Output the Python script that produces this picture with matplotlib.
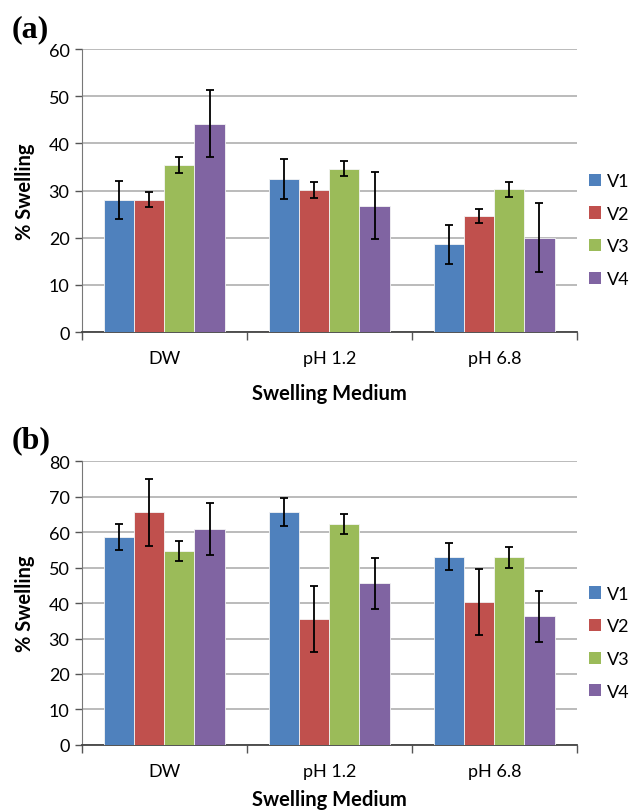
import matplotlib
matplotlib.use("Agg")
import matplotlib.pyplot as plt
from matplotlib.patches import Patch
import numpy as np

categories = ["DW", "pH 1.2", "pH 6.8"]
series = ["V1", "V2", "V3", "V4"]
colors = ["#4F81BD", "#C0504D", "#9BBB59", "#8064A2"]

# Panel (a)
a_V1 = [28.0, 32.5, 18.6]
a_V2 = [28.0, 30.1, 24.6]
a_V3 = [35.4, 34.6, 30.3]
a_V4 = [44.2, 26.8, 20.0]
a_V1_err = [4.0, 4.2, 4.1]
a_V2_err = [1.6, 1.6, 1.5]
a_V3_err = [1.6, 1.6, 1.6]
a_V4_err = [7.2, 7.1, 7.3]

# Panel (b)
b_V1 = [58.5, 65.7, 53.1]
b_V2 = [65.5, 35.6, 40.2]
b_V3 = [54.6, 62.3, 52.9]
b_V4 = [60.8, 45.5, 36.2]
b_V1_err = [3.7, 3.9, 3.7]
b_V2_err = [9.4, 9.3, 9.3]
b_V3_err = [2.8, 2.9, 3.0]
b_V4_err = [7.3, 7.2, 7.1]

yticks_a = [0, 10, 20, 30, 40, 50, 60]
yticks_b = [0, 10, 20, 30, 40, 50, 60, 70, 80]

FONT = "Lato"
plt.rcParams['font.family'] = [FONT, 'DejaVu Sans']

fig = plt.figure(figsize=(6.32, 8.12), dpi=100)

def draw_panel(rect, vals, errs, yticks, letter, letter_xy, xlabelpad):
    ax = fig.add_axes(rect)
    x = np.arange(len(categories))
    w = 0.182
    for i, (v, e, c, s) in enumerate(zip(vals, errs, colors, series)):
        pos = x + (i - 1.5) * w
        ax.bar(pos, v, width=w, color=c, edgecolor="#f4f4f4", linewidth=0.6,
               label=s, zorder=3)
        ax.errorbar(pos, v, yerr=e, fmt="none", ecolor="black", elinewidth=1.3,
                    capsize=3, capthick=1.3, zorder=4)
    ax.set_xlim(-0.5, len(categories) - 0.5)
    ax.set_ylim(yticks[0], yticks[-1])
    ax.set_yticks(yticks)
    ax.set_yticklabels([str(t) for t in yticks], fontsize=13)
    ax.set_xticks(x)
    ax.set_xticklabels(categories, fontsize=13)
    ax.set_xticks(np.arange(len(categories) + 1) - 0.5, minor=True)
    ax.tick_params(axis="x", which="major", length=0, pad=13)
    ax.tick_params(axis="x", which="minor", length=6, width=1, color="#555555")
    ax.tick_params(axis="y", which="major", length=5, width=1, color="#555555", pad=4)
    ax.grid(axis="y", color="#a8a8a8", linewidth=1.1, zorder=0)
    ax.set_axisbelow(True)
    for s in ["top", "right"]:
        ax.spines[s].set_visible(False)
    ax.spines["left"].set_color("#777777")
    ax.spines["bottom"].set_color("#444444")
    ax.spines["bottom"].set_linewidth(1.3)
    ax.set_ylabel("% Swelling", fontsize=14.5, fontweight="bold", labelpad=10)
    ax.set_xlabel("Swelling Medium", fontsize=14.5, fontweight="bold", labelpad=xlabelpad)
    handles = [Patch(facecolor=c, edgecolor="none") for c in colors]
    ax.legend(handles, series, loc="center left", bbox_to_anchor=(1.010, 0.36),
              frameon=False, fontsize=13, handlelength=0.65, handleheight=0.65,
              handletextpad=0.35, labelspacing=0.92, borderaxespad=0)
    fig.text(letter_xy[0], letter_xy[1], letter, fontsize=23, fontweight="bold",
             family="Liberation Serif", ha="left", va="center")
    return ax

draw_panel([0.1297, 0.5899, 0.7832, 0.3485],
           [a_V1, a_V2, a_V3, a_V4], [a_V1_err, a_V2_err, a_V3_err, a_V4_err],
           yticks_a, "(a)", (0.018, 0.963), 12)
draw_panel([0.1297, 0.0813, 0.7832, 0.3497],
           [b_V1, b_V2, b_V3, b_V4], [b_V1_err, b_V2_err, b_V3_err, b_V4_err],
           yticks_b, "(b)", (0.018, 0.457), 7)

fig.savefig("out.png", dpi=100)
